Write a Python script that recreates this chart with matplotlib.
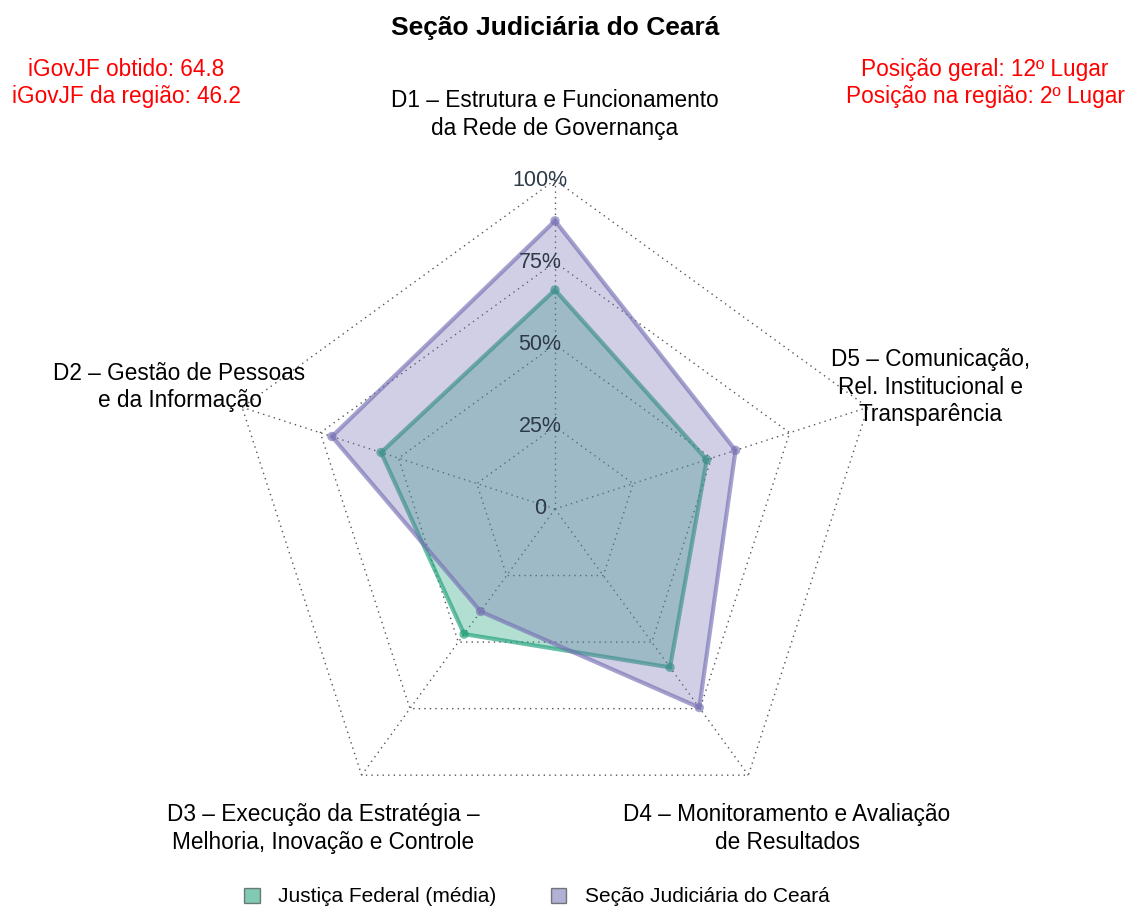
import numpy as np
import matplotlib.pyplot as plt
from matplotlib.patches import Polygon

plt.rcParams['font.family'] = ['Liberation Sans', 'DejaVu Sans']

# dimension labels (clockwise from top)
dimensions = [
    "D1 \u2013 Estrutura e Funcionamento\nda Rede de Governança",
    "D2 \u2013 Gestão de Pessoas\ne da Informação",
    "D3 \u2013 Execução da Estratégia \u2013\nMelhoria, Inovação e Controle",
    "D4 \u2013 Monitoramento e Avaliação\nde Resultados",
    "D5 \u2013 Comunicação,\nRel. Institucional e\nTransparência",
]
# values in %, order D1..D5
justica_federal = [66.6, 55.6, 47.0, 59.5, 48.5]
secao_ceara = [87.6, 71.3, 38.5, 74.6, 57.7]
grid_levels = [0, 25, 50, 75, 100]
grid_labels = ["0", "25%", "50%", "75%", "100%"]

series_names = ["Justiça Federal (média)", "Seção Judiciária do Ceará"]
series_colors = ["#1B9E77", "#7570B3"]

# pixel layout of the reference
W, H = 1128, 907
cx, cy, R = 555, 509, 329

fig = plt.figure(figsize=(W / 100, H / 100), dpi=100)
ax = fig.add_axes([0, 0, 1, 1])
ax.set_xlim(-cx / R, (W - cx) / R)
ax.set_ylim(-(H - cy) / R, cy / R)
ax.axis("off")

# angles: D1 on top, then counter-clockwise like fmsb
angles = np.deg2rad(90 + 72 * np.arange(len(dimensions)))
ux, uy = np.cos(angles), np.sin(angles)

# grid
for lvl in grid_levels[1:]:
    r = lvl / 100
    px = np.append(ux * r, ux[0] * r)
    py = np.append(uy * r, uy[0] * r)
    ax.plot(px, py, ls=(0, (1, 3)), color="#555555", lw=1.0, zorder=1)
for x, y in zip(ux, uy):
    ax.plot([0, x], [0, y], ls=(0, (1, 3)), color="#555555", lw=1.0, zorder=1)

# series
for i, (vals, col) in enumerate(zip([justica_federal, secao_ceara], series_colors)):
    r = np.array(vals) / 100
    pts = np.column_stack([ux * r, uy * r])
    ax.add_patch(Polygon(pts, closed=True, facecolor=col, alpha=0.33,
                         edgecolor="none", zorder=2 + i * 2))
    ax.add_patch(Polygon(pts, closed=True, facecolor="none", edgecolor=col,
                         alpha=0.65, lw=3, zorder=3 + i * 2))
    ax.scatter(pts[:, 0], pts[:, 1], s=45, color=col, alpha=0.65,
               edgecolors="none", zorder=3 + i * 2)

# axis percent labels
for lvl, lab in zip(grid_levels, grid_labels):
    ax.text(-15 / R, lvl / 100, lab, ha="center", va="center",
            fontsize=15.5, color="#2d3a48", zorder=10)

# dimension labels
for lab, x, y in zip(dimensions, ux, uy):
    ax.text(1.2 * x, 1.2 * y, lab, ha="center", va="center",
            fontsize=16.3, linespacing=1.27, color="black")

fig.text(cx / W, 1 - 28 / H, "Seção Judiciária do Ceará", ha="center",
         va="center", fontsize=19, fontweight="bold")
fig.text(126 / W, 1 - 83 / H, "iGovJF obtido: 64.8\niGovJF da região: 46.2",
         ha="center", va="center", fontsize=16.3, color="red", linespacing=1.27)
fig.text(985 / W, 1 - 83 / H, "Posição geral: 12º Lugar\nPosição na região: 2º Lugar",
         ha="center", va="center", fontsize=16.3, color="red", linespacing=1.27)

# legend
handles = [plt.Rectangle((0, 0), 1, 1, facecolor=c, alpha=0.55, edgecolor="#222222")
           for c in series_colors]
leg = fig.legend(handles, series_names, loc="center", bbox_to_anchor=(537 / W, 1 - 897 / H),
                 ncol=2, frameon=False, fontsize=15, handlelength=0.75, handleheight=0.75,
                 columnspacing=2.6, handletextpad=0.9)

fig.savefig("out.png", dpi=100)
